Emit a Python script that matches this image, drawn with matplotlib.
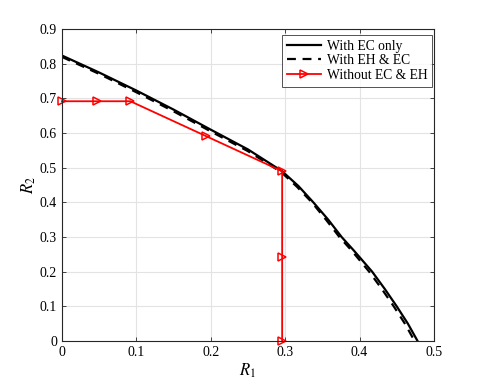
import numpy as np
import matplotlib
matplotlib.use("Agg")
import matplotlib.pyplot as plt

# ------------- data -------------
r1_ec = [0.0, 0.05, 0.1, 0.15, 0.2, 0.25, 0.296, 0.318, 0.338, 0.358, 0.376, 0.392, 0.417, 0.434, 0.45, 0.465, 0.478]
r2_ec = [0.824, 0.775, 0.723, 0.668, 0.61, 0.553, 0.49, 0.447, 0.4, 0.35, 0.3, 0.262, 0.2, 0.15, 0.1, 0.05, 0.0]

r1_eh = [0.0, 0.05, 0.1, 0.15, 0.2, 0.25, 0.295, 0.316, 0.336, 0.355, 0.373, 0.389, 0.413, 0.43, 0.446, 0.461, 0.474]
r2_eh = [0.82, 0.771, 0.718, 0.663, 0.605, 0.548, 0.487, 0.445, 0.4, 0.35, 0.3, 0.262, 0.2, 0.15, 0.1, 0.05, 0.0]

r1_no = [0.0, 0.047, 0.092, 0.194, 0.296, 0.296, 0.296]
r2_no = [0.692, 0.692, 0.692, 0.591, 0.49, 0.243, 0.0]

xticks = [0, 0.1, 0.2, 0.3, 0.4, 0.5]
yticks = [0, 0.1, 0.2, 0.3, 0.4, 0.5, 0.6, 0.7, 0.8, 0.9]
# --------------------------------------------------------

plt.rcParams.update({
    "font.family": ["Liberation Serif", "DejaVu Serif"],
    "mathtext.fontset": "stix",
    "font.size": 10,
})

fig = plt.figure(figsize=(4.8, 3.84), dpi=100)
ax = fig.add_axes([0.129, 0.112, 0.775, 0.812])

ax.plot(r1_ec, r2_ec, color="black", lw=1.6, ls="-", label="With EC only")
ax.plot(r1_eh, r2_eh, color="black", lw=1.6, ls=(0, (4, 3)), label="With EH & EC")
ax.plot(r1_no, r2_no, color="red", lw=1.3, marker=">", ms=6,
        mfc="none", mec="red", mew=1.1, label="Without EC & EH", clip_on=False)

ax.set_xlim(0, 0.5)
ax.set_ylim(0, 0.9)
ax.set_xticks(xticks)
ax.set_yticks(yticks)
ax.set_xticklabels([f"{v:g}" for v in xticks])
ax.set_yticklabels([f"{v:g}" for v in yticks])
ax.grid(True, color="#e3e3e3", lw=0.8)
ax.set_axisbelow(True)
ax.tick_params(direction="in", top=True, right=True, length=3, width=0.6,
               colors="#262626", labelcolor="black")
for s in ax.spines.values():
    s.set_color("#262626")
    s.set_linewidth(0.8)

ax.set_xlabel("$R_1$", fontsize=12, labelpad=2)
ax.set_ylabel("$R_2$", fontsize=12, labelpad=1)

leg = ax.legend(loc="upper right", bbox_to_anchor=(0.995, 0.982), fontsize=9.8,
                frameon=True, fancybox=False, edgecolor="#262626",
                handlelength=2.5, borderpad=0.35, labelspacing=0.12,
                handletextpad=0.4, borderaxespad=0.0)
leg.get_frame().set_linewidth(0.7)

fig.savefig("out.png", dpi=100)
